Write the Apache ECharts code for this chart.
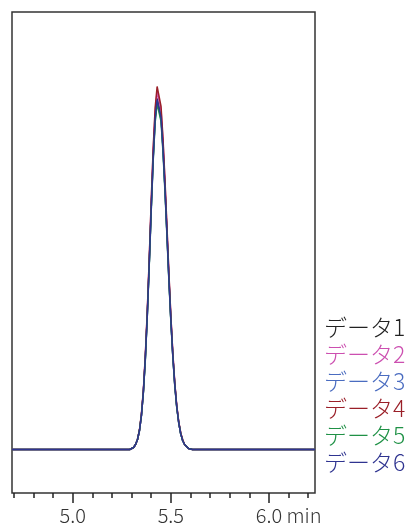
<!DOCTYPE html>
<html>
<head>
<meta charset="utf-8">
<script src="https://cdn.jsdelivr.net/npm/echarts@6/dist/echarts.min.js"></script>
<style>
html, body { margin: 0; padding: 0; background: #fff; }
#chroma { width: 419px; height: 530px; }
</style>
</head>
<body>
<div id="chroma"></div>
<script>
// 保持時間 (min)
var times = [4.69, 5.29,
	5.30, 5.31, 5.32, 5.33, 5.34, 5.35, 5.36, 5.37, 5.38, 5.39,
	5.40, 5.41, 5.42, 5.43, 5.44, 5.45, 5.46, 5.47, 5.48, 5.49,
	5.50, 5.51, 5.52, 5.53, 5.54, 5.55, 5.56, 5.57, 5.58, 5.59,
	5.60, 5.61, 6.235];

var data1 = [0, 0, 1, 2, 5, 10, 19, 34, 58, 92, 136, 187, 242, 293, 332, 351, 350, 332, 302, 262, 217, 172, 130, 94, 65, 43, 27, 16, 9, 5, 3, 1, 1, 0, 0];
var data2 = [0, 0, 1, 2, 5, 10, 19, 35, 59, 94, 138, 191, 247, 299, 338, 358, 357, 339, 308, 267, 221, 175, 133, 96, 66, 44, 28, 17, 10, 5, 3, 1, 1, 0, 0];
var data3 = [0, 0, 1, 2, 5, 10, 19, 34, 58, 91, 134, 186, 240, 290, 329, 348, 347, 330, 299, 260, 215, 170, 129, 93, 64, 42, 27, 16, 9, 5, 3, 1, 1, 0, 0];
var data4 = [0, 0, 1, 2, 5, 10, 20, 36, 60, 95, 140, 193, 250, 302, 342, 363, 362, 343, 311, 270, 224, 177, 134, 97, 67, 44, 28, 17, 10, 5, 3, 1, 1, 0, 0];
var data5 = [0, 0, 1, 2, 5, 10, 19, 34, 57, 90, 134, 185, 239, 289, 327, 346, 345, 328, 297, 258, 214, 169, 128, 93, 64, 42, 27, 16, 9, 5, 3, 1, 1, 0, 0];
var data6 = [0, 0, 1, 2, 5, 10, 19, 34, 58, 92, 135, 187, 242, 292, 331, 350, 349, 332, 301, 261, 217, 171, 130, 94, 65, 43, 27, 16, 9, 5, 3, 1, 1, 0, 0];

var seriesNames = ['データ1', 'データ2', 'データ3', 'データ4', 'データ5', 'データ6'];
var seriesColors = ['#222222', '#cc4fb0', '#4a6cc0', '#9a1f28', '#1f9146', '#2f3490'];

var labelValues = [5.0, 5.5, 6.0];
var minorValues = [4.7, 4.8, 4.9, 5.1, 5.2, 5.3, 5.4, 5.6, 5.7, 5.8, 5.9, 6.1, 6.2];

(function() {
	var chart = echarts.init(document.getElementById('chroma'));
	var font = '"Noto Sans CJK JP", "Noto Sans", sans-serif';
	var allData = [data1, data2, data3, data4, data5, data6];

	var series = [];
	var legendData = [];
	for (var i = 0; i < seriesNames.length; i++) {
		var pts = [];
		for (var j = 0; j < times.length; j++) {
			pts.push([times[j], allData[i][j]]);
		}
		series.push({
			name: seriesNames[i],
			type: 'line',
			xAxisIndex: 0,
			showSymbol: false,
			symbol: 'none',
			lineStyle: { color: seriesColors[i], width: 1.5 },
			itemStyle: { color: seriesColors[i] },
			data: pts
		});
		legendData.push({ name: seriesNames[i], textStyle: { color: seriesColors[i] } });
	}

	var option = {
		animation: false,
		grid: {
			left: 12, top: 12, right: 104, bottom: 37,
			show: true,
			borderColor: '#333',
			borderWidth: 1.5,
			backgroundColor: '#fff'
		},
		legend: {
			orient: 'vertical',
			left: 318,
			top: 314,
			padding: 0,
			itemWidth: 0,
			itemHeight: 0,
			itemGap: 0,
			selectedMode: false,
			textStyle: { fontFamily: font, fontSize: 23, fontWeight: 300, lineHeight: 27 },
			data: legendData
		},
		xAxis: [
			{
				type: 'value',
				min: 4.69,
				max: 6.235,
				position: 'bottom',
				axisLine: { show: false, onZero: false },
				splitLine: { show: false },
				axisTick: {
					show: true,
					length: 10,
					customValues: labelValues,
					lineStyle: { color: '#222', width: 1.5 }
				},
				axisLabel: {
					customValues: labelValues,
					margin: 12,
					color: '#333',
					fontFamily: font,
					fontSize: 20,
					fontWeight: 300,
					formatter: function(v) {
						if (Math.abs(v - 6.0) < 1e-6) {
							return '{h|min }6.0 min';
						}
						return v.toFixed(1);
					},
					rich: {
						h: { color: 'rgba(0,0,0,0)', fontFamily: font, fontSize: 20, fontWeight: 300 }
					}
				}
			},
			{
				type: 'value',
				min: 4.69,
				max: 6.235,
				position: 'bottom',
				offset: 0,
				axisLine: { show: false, onZero: false },
				splitLine: { show: false },
				axisLabel: { show: false },
				axisTick: {
					show: true,
					length: 5,
					customValues: minorValues,
					lineStyle: { color: '#222', width: 1.5 }
				}
			}
		],
		yAxis: {
			type: 'value',
			min: -43.5,
			max: 437.5,
			show: false
		},
		series: series
	};

	chart.setOption(option);
})();
</script>
</body>
</html>
